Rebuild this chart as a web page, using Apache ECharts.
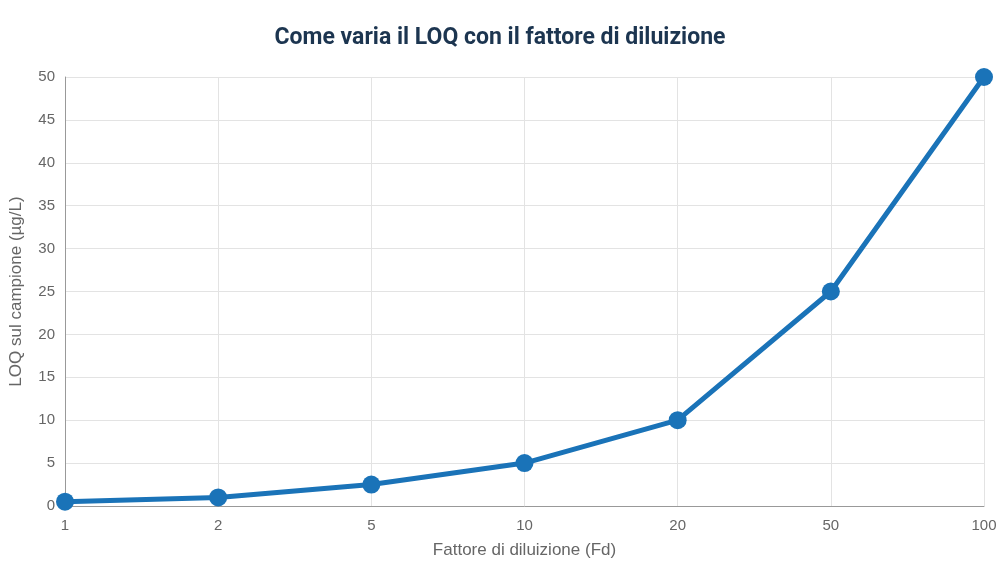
<!DOCTYPE html>
<html><head><meta charset="utf-8">
<script src="https://cdn.jsdelivr.net/npm/echarts@6/dist/echarts.min.js"></script>
<style>html,body{margin:0;padding:0;background:#fff}#c{width:1000px;height:570px}</style>
</head><body><div id="c"></div>
<script>
const categories = ['1','2','5','10','20','50','100'];
const loqValues = [0.5, 1, 2.5, 5, 10, 25, 50];
const chart = echarts.init(document.getElementById('c'));
chart.setOption({
  animation:false,
  title:{text:'Come varia il LOQ con il fattore di diluizione',left:'center',top:22,
    textStyle:{fontFamily:'Roboto, Liberation Sans, sans-serif',fontSize:23,fontWeight:'bold',color:'#1c3550'}},
  grid:{left:62,right:16,top:77,bottom:64},
  xAxis:{type:'category',data:categories,boundaryGap:false,
    name:'Fattore di diluizione (Fd)',nameLocation:'middle',nameGap:36,
    nameTextStyle:{fontFamily:'Liberation Sans, sans-serif',fontSize:17,color:'#666'},
    axisLine:{lineStyle:{color:'#999'}},axisTick:{show:false},
    axisLabel:{fontFamily:'Liberation Sans, sans-serif',fontSize:15,color:'#666',margin:12},
    splitLine:{show:true,lineStyle:{color:'#e3e3e3'}}},
  yAxis:{type:'value',min:0,max:50,interval:5,
    name:'LOQ sul campione (µg/L)',nameLocation:'middle',nameGap:40,
    nameTextStyle:{fontFamily:'Liberation Sans, sans-serif',fontSize:17,color:'#666'},
    axisLine:{show:true,lineStyle:{color:'#999'}},axisTick:{show:false},
    axisLabel:{fontFamily:'Liberation Sans, sans-serif',fontSize:15,color:'#666',margin:10},
    splitLine:{lineStyle:{color:'#e3e3e3'}}},
  series:[{type:'line',data:loqValues,symbol:'circle',symbolSize:18,
    lineStyle:{width:5,color:'#1a73b8'},itemStyle:{color:'#1a73b8'}}]
});
</script></body></html>
